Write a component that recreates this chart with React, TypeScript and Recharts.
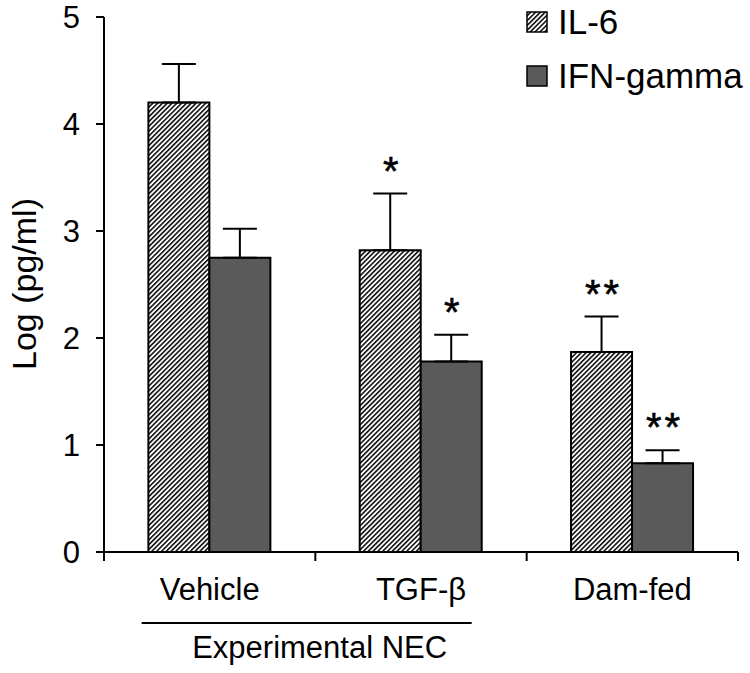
import React from "react";
import { BarChart, Bar, XAxis, YAxis, ErrorBar, LabelList } from "recharts";

const groups = ["Vehicle", "TGF-β", "Dam-fed"];
const il6 = [4.2, 2.82, 1.87];
const il6Err = [0.36, 0.53, 0.33];
const ifn = [2.75, 1.78, 0.83];
const ifnErr = [0.27, 0.25, 0.12];
const il6Sig = ["", "*", "**"];
const ifnSig = ["", "*", "**"];
const yTicks = [0, 1, 2, 3, 4, 5];

const data = groups.map((g, i) => ({
  group: g,
  il6: il6[i],
  il6Err: [0, il6Err[i]],
  il6Sig: il6Sig[i],
  ifn: ifn[i],
  ifnErr: [0, ifnErr[i]],
  ifnSig: ifnSig[i],
}));

const W = 750;
const H = 673;
const PLOT_LEFT = 104;
const RIGHT = 12;
const BAND = (W - RIGHT - PLOT_LEFT) / groups.length;
const FONT = "'Liberation Sans', Arial, sans-serif";
const GRAY = "#5a5a5a";

function CatTick(props: any) {
  const { x, y, payload, index } = props;
  const tick = (tx: number) => (
    <line x1={tx} y1={y} x2={tx} y2={y + 9} stroke="#000" strokeWidth={2} />
  );
  return (
    <g>
      {tick(x + BAND / 2)}
      {index === 0 && tick(x - BAND / 2)}
      <text x={x} y={y + 48} textAnchor="middle" fontSize={31} fontFamily={FONT} fill="#000">
        {payload.value}
      </text>
      {index === 0 && (
        <g>
          <line x1={x - 68} y1={y + 71} x2={x + 262} y2={y + 71} stroke="#000" strokeWidth={2} />
          <text x={x + 110} y={y + 106} textAnchor="middle" fontSize={31} fontFamily={FONT} fill="#000">
            Experimental NEC
          </text>
        </g>
      )}
    </g>
  );
}

function makeStars(valueKey: "il6" | "ifn", errKey: "il6Err" | "ifnErr") {
  return (props: any) => {
    const { x, y, width, height, value, index } = props;
    if (!value) return null;
    const d = data[index];
    const pxPerUnit = height / d[valueKey];
    const errTop = y - d[errKey][1] * pxPerUnit;
    return (
      <text
        x={x + width / 2 + 2}
        y={errTop - 9}
        textAnchor="middle"
        fontSize={40}
        letterSpacing={3}
        fontFamily={FONT}
        fill="#000"
        stroke="#000"
        strokeWidth={0.6}
      >
        {value}
      </text>
    );
  };
}

function YLabel() {
  return (
    <text
      x={24}
      y={284}
      transform="rotate(-90 24 284)"
      textAnchor="middle"
      dominantBaseline="central"
      fontSize={34}
      fontFamily={FONT}
      fill="#000"
    >
      Log (pg/ml)
    </text>
  );
}

function LegendBox() {
  const row = (fill: string, label: string, top: number) => (
    <div style={{ position: "absolute", left: 0, top, display: "flex", alignItems: "center", whiteSpace: "nowrap" }}>
      <svg width={22} height={22} style={{ marginRight: 10 }}>
        <rect x={1} y={1} width={20} height={20} fill={fill} stroke="#000" strokeWidth={1.5} />
      </svg>
      <span style={{ fontFamily: FONT, fontSize: 35, lineHeight: "42px", color: "#000" }}>{label}</span>
    </div>
  );
  return (
    <div style={{ position: "absolute", left: 526, top: 0, width: 224, height: 100 }}>
      {row("url(#hatch)", "IL-6", 1)}
      {row(GRAY, "IFN-gamma", 55)}
    </div>
  );
}

export default function App() {
  return (
    <div style={{ position: "absolute", left: 0, top: 0, width: W, height: H, background: "#fff", overflow: "hidden" }}>
      <svg width={0} height={0} style={{ position: "absolute" }}>
        <defs>
          <pattern id="hatch" patternUnits="userSpaceOnUse" width={3.4} height={3.4} patternTransform="rotate(45)">
            <rect width={3.4} height={3.4} fill="#fff" />
            <line x1={0.8} y1={0} x2={0.8} y2={3.4} stroke="#000" strokeWidth={1.5} />
          </pattern>
        </defs>
      </svg>
      <BarChart
        width={W}
        height={H}
        data={data}
        margin={{ top: 17, right: RIGHT, left: 0, bottom: 0 }}
        barCategoryGap="21%"
        barGap={0}
      >
        <XAxis
          dataKey="group"
          height={121}
          interval={0}
          tickLine={false}
          tickSize={0}
          tickMargin={0}
          axisLine={{ stroke: "#000", strokeWidth: 2 }}
          tick={<CatTick />}
        />
        <YAxis
          width={PLOT_LEFT}
          domain={[0, 5]}
          ticks={yTicks}
          interval={0}
          tickSize={8}
          tickMargin={16}
          axisLine={{ stroke: "#000", strokeWidth: 2 }}
          tickLine={{ stroke: "#000", strokeWidth: 2 }}
          tick={{ fill: "#000", fontSize: 31, fontFamily: FONT }}
          label={<YLabel />}
        />
        <Bar dataKey="il6" fill="url(#hatch)" stroke="#000" strokeWidth={2} isAnimationActive={false}>
          <ErrorBar dataKey="il6Err" width={17} stroke="#000" strokeWidth={2} direction="y" />
          <LabelList dataKey="il6Sig" content={makeStars("il6", "il6Err")} />
        </Bar>
        <Bar dataKey="ifn" fill={GRAY} stroke="#000" strokeWidth={2} isAnimationActive={false}>
          <ErrorBar dataKey="ifnErr" width={17} stroke="#000" strokeWidth={2} direction="y" />
          <LabelList dataKey="ifnSig" content={makeStars("ifn", "ifnErr")} />
        </Bar>
      </BarChart>
      <LegendBox />
    </div>
  );
}
